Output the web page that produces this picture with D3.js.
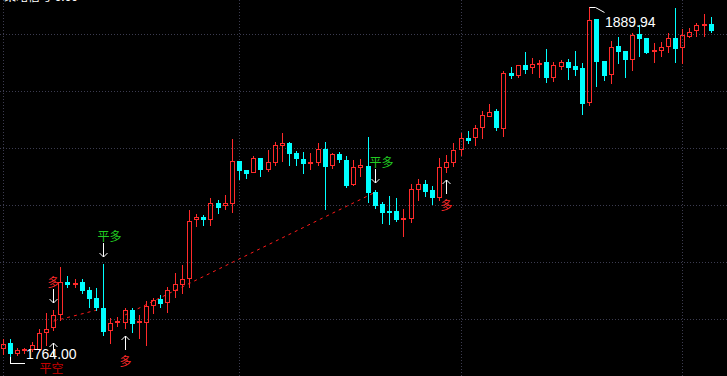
<!DOCTYPE html>
<html>
<head>
<meta charset="utf-8">
<script src="https://cdn.jsdelivr.net/npm/d3@7"></script>
<style>
  html, body { margin: 0; padding: 0; background: #000; overflow: hidden; }
  svg { display: block; }
</style>
</head>
<body>
<svg id="chart" width="727" height="376"></svg>
<script>
// daily bars
const openP = [
  1766.8, 1768.6, 1765.0, 1766.2, 1766.5, 1766.7, 1772.8, 1774.3, 1779.2, 1790.8,
  1789.9, 1790.8, 1787.8, 1785.0, 1781.2, 1773.5, 1776.2, 1776.4, 1780.6, 1776.1,
  1776.4, 1782.3, 1784.5, 1783.6, 1787.9, 1790.1, 1792.0, 1813.3, 1814.2, 1813.4,
  1819.3, 1818.4, 1819.1, 1834.3, 1831.1, 1830.5, 1835.6, 1831.5, 1834.1, 1840.1,
  1841.0, 1837.4, 1835.1, 1833.8, 1834.1, 1838.7, 1832.9, 1836.9, 1834.7, 1826.0,
  1832.3, 1832.6, 1823.1, 1818.9, 1816.4, 1816.4, 1813.4, 1813.9, 1824.3, 1826.1,
  1823.9, 1821.5, 1832.3, 1834.0, 1838.7, 1842.7, 1843.1, 1846.5, 1850.7, 1852.4,
  1846.4, 1866.2, 1865.5, 1868.9, 1868.2, 1869.4, 1870.0, 1864.8, 1868.8, 1870.0,
  1868.7, 1867.9, 1855.5, 1885.6, 1870.5, 1865.7, 1875.9, 1874.1, 1871.2, 1880.2,
  1878.9, 1874.1, 1874.4, 1876.0, 1878.9, 1875.6, 1879.6, 1881.6, 1883.5, 1883.8
];
const highP = [
  1770.0, 1770.0, 1767.0, 1767.0, 1769.0, 1773.6, 1779.5, 1780.6, 1796.2, 1792.9,
  1791.7, 1791.7, 1789.0, 1788.4, 1797.2, 1777.6, 1778.0, 1781.4, 1781.4, 1778.8,
  1783.8, 1785.1, 1785.9, 1789.0, 1793.9, 1796.8, 1816.7, 1815.2, 1814.9, 1820.9,
  1820.3, 1822.1, 1842.3, 1834.4, 1831.1, 1836.2, 1835.6, 1838.3, 1841.3, 1844.5,
  1841.3, 1838.1, 1837.5, 1837.4, 1841.0, 1841.1, 1837.4, 1837.5, 1836.2, 1834.7,
  1835.0, 1843.1, 1823.9, 1819.7, 1821.7, 1821.1, 1817.0, 1826.0, 1827.8, 1827.5,
  1825.3, 1835.3, 1836.5, 1840.8, 1844.4, 1845.2, 1847.4, 1852.4, 1854.9, 1853.1,
  1866.9, 1868.2, 1868.9, 1873.6, 1871.7, 1870.8, 1874.8, 1870.0, 1870.8, 1871.2,
  1874.1, 1869.9, 1889.94, 1885.6, 1870.5, 1877.7, 1879.2, 1874.1, 1880.7, 1883.5,
  1878.9, 1876.8, 1877.2, 1880.5, 1889.5, 1882.0, 1882.5, 1884.1, 1887.3, 1886.2
];
const lowP = [
  1764.6, 1764.0, 1764.3, 1765.0, 1765.8, 1766.2, 1768.1, 1773.4, 1777.0, 1788.8,
  1788.8, 1786.6, 1781.8, 1780.6, 1771.6, 1768.8, 1774.8, 1774.2, 1772.8, 1770.5,
  1768.1, 1779.4, 1781.6, 1780.0, 1785.3, 1786.6, 1789.0, 1810.9, 1811.3, 1811.3,
  1815.7, 1817.0, 1816.1, 1827.9, 1828.4, 1830.5, 1829.1, 1830.9, 1832.9, 1834.5,
  1832.9, 1832.9, 1830.1, 1831.5, 1832.9, 1816.9, 1831.7, 1834.1, 1824.9, 1825.7,
  1829.1, 1819.7, 1817.5, 1812.1, 1811.6, 1812.8, 1807.4, 1812.5, 1820.3, 1821.8,
  1818.7, 1820.3, 1830.5, 1832.4, 1836.5, 1841.0, 1840.1, 1842.8, 1850.7, 1845.6,
  1843.5, 1864.4, 1864.6, 1866.2, 1866.0, 1864.6, 1863.0, 1863.4, 1867.6, 1864.0,
  1865.4, 1851.5, 1854.6, 1861.4, 1863.6, 1862.6, 1869.6, 1864.8, 1867.2, 1872.3,
  1873.2, 1870.2, 1872.4, 1873.8, 1870.2, 1869.8, 1879.2, 1879.6, 1879.6, 1881.0
];
const closeP = [
  1768.2, 1765.0, 1766.2, 1766.5, 1768.0, 1772.2, 1773.6, 1778.8, 1790.6, 1789.9,
  1790.2, 1787.8, 1785.0, 1781.8, 1773.1, 1775.9, 1776.7, 1780.6, 1775.8, 1776.6,
  1782.0, 1784.2, 1783.2, 1787.8, 1789.9, 1791.7, 1812.7, 1814.1, 1813.5, 1819.1,
  1817.9, 1819.1, 1834.3, 1831.1, 1829.9, 1835.3, 1831.5, 1833.9, 1840.1, 1840.9,
  1837.4, 1835.6, 1833.8, 1834.1, 1838.6, 1832.7, 1836.9, 1835.1, 1825.7, 1832.1,
  1833.0, 1823.3, 1818.5, 1816.1, 1816.1, 1813.4, 1813.8, 1824.3, 1826.0, 1823.7,
  1821.5, 1832.1, 1833.9, 1838.5, 1842.6, 1841.9, 1846.2, 1851.0, 1851.9, 1846.7,
  1866.0, 1865.5, 1868.9, 1867.7, 1869.4, 1869.8, 1864.8, 1869.0, 1870.0, 1868.4,
  1867.6, 1855.4, 1885.3, 1870.5, 1865.4, 1875.4, 1874.1, 1871.2, 1879.8, 1878.9,
  1873.6, 1874.4, 1875.4, 1878.7, 1875.3, 1879.8, 1880.8, 1883.5, 1883.8, 1881.6
];

// bar index where a new month starts (vertical dotted lines)
const monthStarts = [0, 33, 64, 95];
// horizontal dotted price levels
const gridLevels = [1880.2, 1859.66, 1839.12, 1818.58, 1798.04, 1777.5];

// open long -> close long, dashed connection
const trades = [
  { from: 7, fromPrice: 1776.6, to: 14, toPrice: 1781.2 },
  { from: 17, fromPrice: 1778.8, to: 52, toPrice: 1823.1 }
];
const signals = [
  { i: 7, label: '多', side: 'above' },
  { i: 7, label: '平空', side: 'below' },
  { i: 14, label: '平多', side: 'above' },
  { i: 17, label: '多', side: 'below' },
  { i: 52, label: '平多', side: 'above' },
  { i: 62, label: '多', side: 'below' }
];
const titleText = '策略信号 0.00';

const W = 727, H = 376;
const UP = '#ff2a2a', DOWN = '#00ffff';
const signalColor = { '多': '#ff2a2a', '平多': '#22cc22', '平空': '#c40000' };

const svg = d3.select('#chart');
svg.append('rect').attr('width', W).attr('height', H).attr('fill', '#000');

const x = d3.scaleBand().domain(d3.range(openP.length)).range([-1.1, 715.9]).padding(0.3);
const y = d3.scaleLinear().domain([1764.00, 1889.94]).range([356, 7]);
const cx = i => x(i) + x.bandwidth() / 2;
const px = i => Math.floor(cx(i)) + 0.5;

// grid
const grid = svg.append('g').attr('stroke', '#3c3c50').attr('stroke-dasharray', '1,2')
  .attr('shape-rendering', 'crispEdges');
grid.selectAll('line.h').data(gridLevels).join('line').attr('class', 'h')
  .attr('x1', 0).attr('x2', W)
  .attr('y1', d => Math.round(y(d)) + 0.5).attr('y2', d => Math.round(y(d)) + 0.5);
grid.selectAll('line.v').data(monthStarts).join('line').attr('class', 'v')
  .attr('x1', px).attr('x2', px).attr('y1', 0).attr('y2', H);

// title (cut off at the top edge, as in the source window)
svg.append('text').attr('x', 4).attr('y', 0.5)
  .attr('fill', '#fff').attr('font-family', '"Noto Sans CJK SC"').attr('font-size', 12)
  .text(titleText);

// trade lines
svg.append('g').selectAll('line').data(trades).join('line')
  .attr('x1', d => cx(d.from)).attr('y1', d => y(d.fromPrice))
  .attr('x2', d => cx(d.to)).attr('y2', d => y(d.toPrice))
  .attr('stroke', '#ff1a1a').attr('stroke-width', 1).attr('stroke-dasharray', '3,4');

// candles
const bars = d3.range(openP.length).map(i => ({
  i, o: openP[i], h: highP[i], l: lowP[i], c: closeP[i]
}));
const cg = svg.append('g').attr('shape-rendering', 'crispEdges');
bars.forEach(d => {
  const up = d.c >= d.o;
  const col = up ? UP : DOWN;
  const wx = px(d.i);
  const left = Math.floor(cx(d.i)) - 2;
  const yTop = Math.round(y(Math.max(d.o, d.c)));
  const yBot = Math.round(y(Math.min(d.o, d.c)));
  const yH = Math.round(y(d.h)), yL = Math.round(y(d.l));
  const g = cg.append('g');
  if (yBot - yTop < 1) {
    g.append('line').attr('x1', wx).attr('x2', wx).attr('y1', yH).attr('y2', yL + 1).attr('stroke', col);
    g.append('line').attr('x1', left).attr('x2', left + 5).attr('y1', yTop + 0.5).attr('y2', yTop + 0.5).attr('stroke', col);
    return;
  }
  if (up) {
    g.append('line').attr('x1', wx).attr('x2', wx).attr('y1', yH).attr('y2', yTop).attr('stroke', col);
    g.append('line').attr('x1', wx).attr('x2', wx).attr('y1', yBot + 1).attr('y2', yL + 1).attr('stroke', col);
    g.append('rect').attr('x', left + 0.5).attr('y', yTop + 0.5)
      .attr('width', 4).attr('height', yBot - yTop)
      .attr('fill', 'none').attr('stroke', col);
  } else {
    g.append('line').attr('x1', wx).attr('x2', wx).attr('y1', yH).attr('y2', yL + 1).attr('stroke', col);
    g.append('rect').attr('x', left).attr('y', yTop)
      .attr('width', 5).attr('height', yBot - yTop + 1).attr('fill', col);
  }
});

// signal arrows + labels
const sg = svg.append('g');
signals.forEach(s => {
  const ax = px(s.i);
  let tip, tail, base;
  if (s.side === 'above') {
    tip = Math.round(y(highP[s.i])) - 7;
    tail = tip - 14;
    base = tail - 2;
    sg.append('path')
      .attr('d', `M${ax},${tail}L${ax},${tip}M${ax - 4},${tip - 4}L${ax},${tip}L${ax + 4},${tip - 4}`)
      .attr('stroke', '#fff').attr('fill', 'none');
  } else {
    // the close-short mark sits a little lower than the open-long mark
    tip = Math.round(y(lowP[s.i])) + (s.label === '平空' ? 13 : 8);
    tail = tip + 14;
    base = tail + 16;
    sg.append('path')
      .attr('d', `M${ax},${tail}L${ax},${tip}M${ax - 4},${tip + 4}L${ax},${tip}L${ax + 4},${tip + 4}`)
      .attr('stroke', '#fff').attr('fill', 'none');
  }
  const wide = s.label === '平多';
  sg.append('text')
    .attr('x', wide ? ax - 6 : ax - (s.label === '平空' ? 2 : 0))
    .attr('y', base)
    .attr('text-anchor', wide ? 'start' : 'middle')
    .attr('fill', signalColor[s.label])
    .attr('font-family', '"Noto Sans CJK SC"').attr('font-size', 12)
    .text(s.label);
});

// extreme price markers
const hiIdx = d3.maxIndex(highP), loIdx = d3.minIndex(lowP);
const hx = px(hiIdx), hy = Math.round(y(highP[hiIdx])) + 0.5;
const lx = px(loIdx), ly = Math.round(y(lowP[loIdx])) + 0.5;
svg.append('path').attr('d', `M${hx},${hy}L${hx + 6},${hy}L${hx + 15},${hy + 5}`)
  .attr('stroke', '#fff').attr('fill', 'none');
svg.append('path').attr('d', `M${lx},${ly}L${lx},${ly + 7}L${lx + 14},${ly + 7}`)
  .attr('stroke', '#fff').attr('fill', 'none').attr('shape-rendering', 'crispEdges');

svg.append('text').attr('x', hx + 15.5).attr('y', hy + 19.5)
  .attr('fill', '#fff').attr('font-family', 'Liberation Sans, Arial, sans-serif').attr('font-size', 14)
  .text(d3.format('.2f')(highP[hiIdx]));
svg.append('text').attr('x', lx + 15.5).attr('y', ly + 2.5)
  .attr('fill', '#fff').attr('font-family', 'Liberation Sans, Arial, sans-serif').attr('font-size', 14)
  .text(d3.format('.2f')(lowP[loIdx]));
</script>
</body>
</html>
